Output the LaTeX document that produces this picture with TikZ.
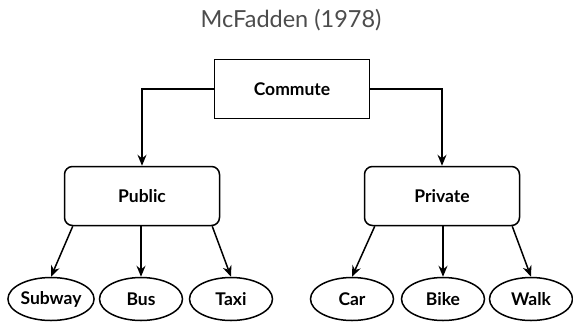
\documentclass[tikz,border=0pt]{standalone}
\usepackage{fontspec}
\setmainfont{Lato}
\usetikzlibrary{arrows.meta,positioning,shapes.geometric}

\begin{document}
\begin{tikzpicture}[x=1pt, y=-1pt,
  nest/.style={rectangle, draw, line width=1.5pt, minimum width=155pt, minimum height=59pt, font=\bfseries\fontsize{17.5}{20}\selectfont},
  mode/.style={ellipse, draw, line width=1.5pt, inner sep=0pt, minimum width=83pt, minimum height=43pt, font=\bfseries\fontsize{17.5}{20}\selectfont},
  link/.style={draw, -{Stealth[length=11pt, width=9pt]}, line width=1.5pt}
]
  \useasboundingbox (0,0) rectangle (573,322);
  \node[text=black!70, font=\fontsize{23.5}{28}\selectfont] (title) at (291,20) {McFadden (1978)};

  \node[nest] (commute) at (292,89) {Commute};
  \node[nest, rounded corners=8pt] (public) at (142,196) {Public};
  \node[nest, rounded corners=8pt] (private) at (442,196) {Private};

  \node[mode] (subway) at (51,299) {Subway};
  \node[mode] (bus) at (141,299) {Bus};
  \node[mode] (taxi) at (231,299) {Taxi};
  \node[mode] (car) at (352,299) {Car};
  \node[mode] (bike) at (443,299) {Bike};
  \node[mode] (walk) at (531,299) {Walk};

  \draw[link] (commute.west) -| (public.north);
  \draw[link] (commute.east) -| (private.north);

  \draw[link] ([xshift=9pt]public.south west) -- (subway.north);
  \draw[link] (public.south -| bus.north) -- (bus.north);
  \draw[link] ([xshift=-8pt]public.south east) -- (taxi.north);
  \draw[link] ([xshift=11pt]private.south west) -- (car.north);
  \draw[link] (private.south -| bike.north) -- (bike.north);
  \draw[link] ([xshift=-8pt]private.south east) -- (walk.north);
\end{tikzpicture}
\end{document}
